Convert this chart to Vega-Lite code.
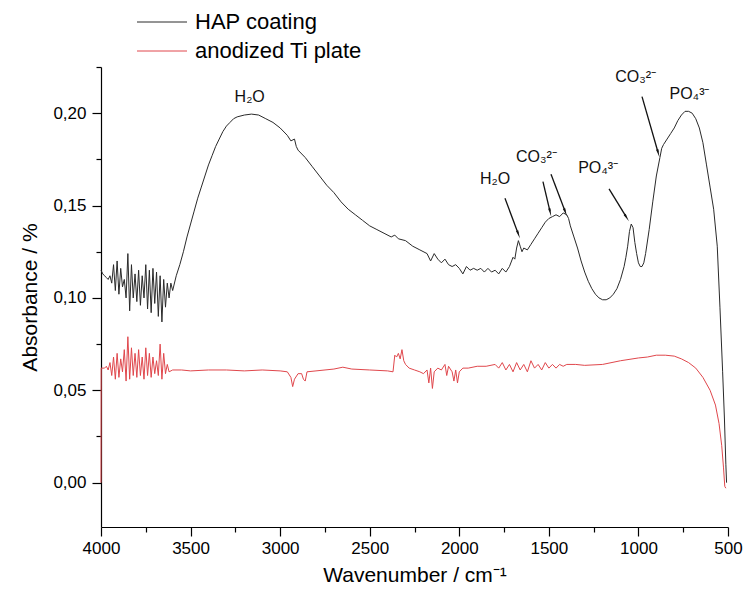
{
  "$schema": "https://vega.github.io/schema/vega-lite/v6.json",
  "autosize": "none",
  "width": 627,
  "height": 460,
  "padding": {"left": 101, "top": 67, "right": 15, "bottom": 72},
  "background": "white",
  "config": {
    "font": "Liberation Sans",
    "view": {"stroke": null},
    "axis": {"domainColor": "#000", "tickColor": "#000", "labelColor": "#000", "titleColor": "#000", "grid": false, "labelFont": "Liberation Sans", "titleFont": "Liberation Sans", "titleFontWeight": "normal"}
  },
  "datasets": {
    "hap": [
      {"wn": 4000, "A": 0.115}, {"wn": 3990, "A": 0.113}, {"wn": 3980, "A": 0.112}, {"wn": 3970, "A": 0.111},
      {"wn": 3960, "A": 0.110}, {"wn": 3950, "A": 0.112}, {"wn": 3940, "A": 0.108}, {"wn": 3930, "A": 0.118},
      {"wn": 3920, "A": 0.104}, {"wn": 3910, "A": 0.120}, {"wn": 3900, "A": 0.102}, {"wn": 3890, "A": 0.116},
      {"wn": 3880, "A": 0.106}, {"wn": 3870, "A": 0.110}, {"wn": 3860, "A": 0.100}, {"wn": 3850, "A": 0.124},
      {"wn": 3840, "A": 0.093}, {"wn": 3830, "A": 0.118}, {"wn": 3820, "A": 0.100}, {"wn": 3810, "A": 0.113},
      {"wn": 3800, "A": 0.098}, {"wn": 3790, "A": 0.115}, {"wn": 3780, "A": 0.096}, {"wn": 3770, "A": 0.112},
      {"wn": 3760, "A": 0.100}, {"wn": 3750, "A": 0.118}, {"wn": 3740, "A": 0.094}, {"wn": 3730, "A": 0.115},
      {"wn": 3720, "A": 0.092}, {"wn": 3710, "A": 0.116}, {"wn": 3700, "A": 0.097}, {"wn": 3690, "A": 0.114},
      {"wn": 3680, "A": 0.090}, {"wn": 3670, "A": 0.112}, {"wn": 3660, "A": 0.087}, {"wn": 3650, "A": 0.110},
      {"wn": 3640, "A": 0.095}, {"wn": 3630, "A": 0.108}, {"wn": 3620, "A": 0.100}, {"wn": 3610, "A": 0.108},
      {"wn": 3600, "A": 0.104}, {"wn": 3580, "A": 0.112}, {"wn": 3560, "A": 0.118}, {"wn": 3540, "A": 0.125},
      {"wn": 3520, "A": 0.133}, {"wn": 3500, "A": 0.140}, {"wn": 3480, "A": 0.147}, {"wn": 3460, "A": 0.154},
      {"wn": 3440, "A": 0.160}, {"wn": 3420, "A": 0.166}, {"wn": 3400, "A": 0.172}, {"wn": 3380, "A": 0.177},
      {"wn": 3360, "A": 0.182}, {"wn": 3340, "A": 0.186}, {"wn": 3320, "A": 0.190}, {"wn": 3300, "A": 0.193},
      {"wn": 3280, "A": 0.195}, {"wn": 3260, "A": 0.197}, {"wn": 3240, "A": 0.198}, {"wn": 3200, "A": 0.199},
      {"wn": 3160, "A": 0.1995}, {"wn": 3120, "A": 0.199}, {"wn": 3080, "A": 0.197}, {"wn": 3040, "A": 0.195},
      {"wn": 3000, "A": 0.192}, {"wn": 2960, "A": 0.188}, {"wn": 2940, "A": 0.185}, {"wn": 2920, "A": 0.186},
      {"wn": 2910, "A": 0.182}, {"wn": 2900, "A": 0.180}, {"wn": 2860, "A": 0.176}, {"wn": 2820, "A": 0.171},
      {"wn": 2780, "A": 0.166}, {"wn": 2740, "A": 0.161}, {"wn": 2700, "A": 0.157}, {"wn": 2660, "A": 0.152},
      {"wn": 2620, "A": 0.148}, {"wn": 2580, "A": 0.145}, {"wn": 2540, "A": 0.142}, {"wn": 2500, "A": 0.139},
      {"wn": 2460, "A": 0.137}, {"wn": 2420, "A": 0.135}, {"wn": 2380, "A": 0.133}, {"wn": 2360, "A": 0.134},
      {"wn": 2340, "A": 0.132}, {"wn": 2300, "A": 0.131}, {"wn": 2260, "A": 0.128}, {"wn": 2220, "A": 0.126},
      {"wn": 2180, "A": 0.124}, {"wn": 2160, "A": 0.120}, {"wn": 2140, "A": 0.124}, {"wn": 2120, "A": 0.121},
      {"wn": 2100, "A": 0.119}, {"wn": 2080, "A": 0.121}, {"wn": 2060, "A": 0.118}, {"wn": 2040, "A": 0.117},
      {"wn": 2020, "A": 0.118}, {"wn": 2000, "A": 0.116}, {"wn": 1980, "A": 0.113}, {"wn": 1960, "A": 0.117},
      {"wn": 1940, "A": 0.115}, {"wn": 1920, "A": 0.116}, {"wn": 1900, "A": 0.115}, {"wn": 1880, "A": 0.116},
      {"wn": 1860, "A": 0.114}, {"wn": 1840, "A": 0.116}, {"wn": 1820, "A": 0.114}, {"wn": 1800, "A": 0.115},
      {"wn": 1780, "A": 0.113}, {"wn": 1760, "A": 0.116}, {"wn": 1740, "A": 0.114}, {"wn": 1720, "A": 0.117},
      {"wn": 1700, "A": 0.122}, {"wn": 1690, "A": 0.121}, {"wn": 1680, "A": 0.127}, {"wn": 1670, "A": 0.131},
      {"wn": 1660, "A": 0.128}, {"wn": 1650, "A": 0.125}, {"wn": 1640, "A": 0.127}, {"wn": 1620, "A": 0.126},
      {"wn": 1600, "A": 0.129}, {"wn": 1580, "A": 0.132}, {"wn": 1560, "A": 0.135}, {"wn": 1540, "A": 0.138},
      {"wn": 1520, "A": 0.141}, {"wn": 1500, "A": 0.143}, {"wn": 1480, "A": 0.144}, {"wn": 1460, "A": 0.145},
      {"wn": 1440, "A": 0.144}, {"wn": 1420, "A": 0.146}, {"wn": 1400, "A": 0.145}, {"wn": 1390, "A": 0.143},
      {"wn": 1380, "A": 0.139}, {"wn": 1360, "A": 0.133}, {"wn": 1340, "A": 0.127}, {"wn": 1320, "A": 0.120},
      {"wn": 1300, "A": 0.114}, {"wn": 1280, "A": 0.109}, {"wn": 1260, "A": 0.105}, {"wn": 1240, "A": 0.102},
      {"wn": 1220, "A": 0.100}, {"wn": 1200, "A": 0.099}, {"wn": 1180, "A": 0.099}, {"wn": 1160, "A": 0.100},
      {"wn": 1140, "A": 0.102}, {"wn": 1120, "A": 0.105}, {"wn": 1100, "A": 0.110}, {"wn": 1080, "A": 0.117},
      {"wn": 1070, "A": 0.122}, {"wn": 1060, "A": 0.128}, {"wn": 1050, "A": 0.136}, {"wn": 1040, "A": 0.140},
      {"wn": 1030, "A": 0.138}, {"wn": 1020, "A": 0.130}, {"wn": 1010, "A": 0.124}, {"wn": 1000, "A": 0.119},
      {"wn": 990, "A": 0.117}, {"wn": 980, "A": 0.117}, {"wn": 970, "A": 0.119}, {"wn": 960, "A": 0.124},
      {"wn": 940, "A": 0.137}, {"wn": 920, "A": 0.152}, {"wn": 900, "A": 0.166}, {"wn": 880, "A": 0.176},
      {"wn": 870, "A": 0.181}, {"wn": 860, "A": 0.183}, {"wn": 840, "A": 0.186}, {"wn": 820, "A": 0.189},
      {"wn": 800, "A": 0.192}, {"wn": 780, "A": 0.196}, {"wn": 760, "A": 0.199}, {"wn": 740, "A": 0.201},
      {"wn": 720, "A": 0.201}, {"wn": 700, "A": 0.200}, {"wn": 680, "A": 0.197}, {"wn": 660, "A": 0.192},
      {"wn": 640, "A": 0.184}, {"wn": 620, "A": 0.172}, {"wn": 600, "A": 0.160}, {"wn": 580, "A": 0.148},
      {"wn": 560, "A": 0.128}, {"wn": 545, "A": 0.095}, {"wn": 530, "A": 0.060}, {"wn": 520, "A": 0.035},
      {"wn": 512, "A": 0.010}, {"wn": 508, "A": 0.000}
    ],
    "ti": [
      {"wn": 4000, "A": 0.000}, {"wn": 3999, "A": 0.062}, {"wn": 3980, "A": 0.062}, {"wn": 3970, "A": 0.063},
      {"wn": 3960, "A": 0.061}, {"wn": 3950, "A": 0.065}, {"wn": 3940, "A": 0.058}, {"wn": 3930, "A": 0.068},
      {"wn": 3920, "A": 0.056}, {"wn": 3910, "A": 0.070}, {"wn": 3900, "A": 0.057}, {"wn": 3890, "A": 0.067},
      {"wn": 3880, "A": 0.060}, {"wn": 3870, "A": 0.072}, {"wn": 3860, "A": 0.055}, {"wn": 3850, "A": 0.079},
      {"wn": 3840, "A": 0.056}, {"wn": 3830, "A": 0.073}, {"wn": 3820, "A": 0.058}, {"wn": 3810, "A": 0.070},
      {"wn": 3800, "A": 0.057}, {"wn": 3790, "A": 0.072}, {"wn": 3780, "A": 0.058}, {"wn": 3770, "A": 0.068},
      {"wn": 3760, "A": 0.056}, {"wn": 3750, "A": 0.073}, {"wn": 3740, "A": 0.058}, {"wn": 3730, "A": 0.070},
      {"wn": 3720, "A": 0.057}, {"wn": 3710, "A": 0.068}, {"wn": 3700, "A": 0.059}, {"wn": 3690, "A": 0.066},
      {"wn": 3680, "A": 0.058}, {"wn": 3670, "A": 0.075}, {"wn": 3660, "A": 0.056}, {"wn": 3650, "A": 0.070},
      {"wn": 3640, "A": 0.059}, {"wn": 3630, "A": 0.064}, {"wn": 3620, "A": 0.060}, {"wn": 3600, "A": 0.061},
      {"wn": 3550, "A": 0.061}, {"wn": 3500, "A": 0.0605}, {"wn": 3400, "A": 0.061}, {"wn": 3300, "A": 0.061},
      {"wn": 3200, "A": 0.0605}, {"wn": 3100, "A": 0.061}, {"wn": 3000, "A": 0.0605}, {"wn": 2960, "A": 0.060},
      {"wn": 2940, "A": 0.057}, {"wn": 2930, "A": 0.052}, {"wn": 2920, "A": 0.056}, {"wn": 2900, "A": 0.059},
      {"wn": 2880, "A": 0.059}, {"wn": 2870, "A": 0.056}, {"wn": 2860, "A": 0.055}, {"wn": 2850, "A": 0.060},
      {"wn": 2800, "A": 0.0605}, {"wn": 2700, "A": 0.0615}, {"wn": 2650, "A": 0.0625}, {"wn": 2600, "A": 0.0615},
      {"wn": 2500, "A": 0.061}, {"wn": 2400, "A": 0.0605}, {"wn": 2370, "A": 0.060}, {"wn": 2360, "A": 0.069},
      {"wn": 2350, "A": 0.068}, {"wn": 2340, "A": 0.070}, {"wn": 2330, "A": 0.067}, {"wn": 2320, "A": 0.072},
      {"wn": 2310, "A": 0.066}, {"wn": 2300, "A": 0.064}, {"wn": 2280, "A": 0.062}, {"wn": 2250, "A": 0.061},
      {"wn": 2220, "A": 0.060}, {"wn": 2200, "A": 0.059}, {"wn": 2180, "A": 0.061}, {"wn": 2170, "A": 0.054},
      {"wn": 2160, "A": 0.062}, {"wn": 2150, "A": 0.051}, {"wn": 2140, "A": 0.060}, {"wn": 2120, "A": 0.062},
      {"wn": 2100, "A": 0.061}, {"wn": 2080, "A": 0.064}, {"wn": 2070, "A": 0.058}, {"wn": 2060, "A": 0.063},
      {"wn": 2040, "A": 0.060}, {"wn": 2030, "A": 0.055}, {"wn": 2020, "A": 0.061}, {"wn": 2010, "A": 0.054},
      {"wn": 2000, "A": 0.060}, {"wn": 1980, "A": 0.062}, {"wn": 1950, "A": 0.062}, {"wn": 1900, "A": 0.063},
      {"wn": 1850, "A": 0.063}, {"wn": 1800, "A": 0.064}, {"wn": 1780, "A": 0.062}, {"wn": 1760, "A": 0.065},
      {"wn": 1740, "A": 0.061}, {"wn": 1720, "A": 0.064}, {"wn": 1700, "A": 0.060}, {"wn": 1680, "A": 0.065},
      {"wn": 1660, "A": 0.061}, {"wn": 1640, "A": 0.064}, {"wn": 1620, "A": 0.060}, {"wn": 1600, "A": 0.066},
      {"wn": 1580, "A": 0.062}, {"wn": 1560, "A": 0.064}, {"wn": 1540, "A": 0.061}, {"wn": 1520, "A": 0.065},
      {"wn": 1500, "A": 0.062}, {"wn": 1480, "A": 0.064}, {"wn": 1460, "A": 0.062}, {"wn": 1440, "A": 0.064},
      {"wn": 1420, "A": 0.063}, {"wn": 1400, "A": 0.064}, {"wn": 1350, "A": 0.064}, {"wn": 1300, "A": 0.0635},
      {"wn": 1200, "A": 0.064}, {"wn": 1100, "A": 0.066}, {"wn": 1000, "A": 0.0675}, {"wn": 950, "A": 0.068},
      {"wn": 900, "A": 0.069}, {"wn": 850, "A": 0.069}, {"wn": 800, "A": 0.0685}, {"wn": 760, "A": 0.067},
      {"wn": 720, "A": 0.065}, {"wn": 680, "A": 0.062}, {"wn": 640, "A": 0.057}, {"wn": 600, "A": 0.050},
      {"wn": 570, "A": 0.042}, {"wn": 550, "A": 0.032}, {"wn": 535, "A": 0.020}, {"wn": 525, "A": 0.008},
      {"wn": 518, "A": -0.002}, {"wn": 512, "A": -0.003}
    ],
    "labels": [
      {"wn": 3170, "A": 0.2085, "label": "H₂O"},
      {"wn": 1800, "A": 0.1645, "label": "H₂O"},
      {"wn": 1570, "A": 0.1765, "label": "CO₃²⁻"},
      {"wn": 1225, "A": 0.1705, "label": "PO₄³⁻"},
      {"wn": 1015, "A": 0.2195, "label": "CO₃²⁻"},
      {"wn": 715, "A": 0.2105, "label": "PO₄³⁻"}
    ],
    "arrows": [
      {"x1": 1745, "y1": 0.154, "x2": 1672, "y2": 0.135},
      {"x1": 1533, "y1": 0.163, "x2": 1494, "y2": 0.147},
      {"x1": 1488, "y1": 0.167, "x2": 1410, "y2": 0.147},
      {"x1": 1164, "y1": 0.159, "x2": 1069, "y2": 0.144},
      {"x1": 980, "y1": 0.209, "x2": 891, "y2": 0.179}
    ]
  },
  "resolve": {"axis": {"x": "independent", "y": "independent"}},
  "layer": [
    {
      "data": {"name": "hap"},
      "transform": [{"calculate": "'HAP coating'", "as": "series"}],
      "mark": {"type": "line", "strokeWidth": 1, "interpolate": "linear"},
      "encoding": {
        "x": {"field": "wn", "type": "quantitative", "scale": {"domain": [500, 4000], "reverse": true, "nice": false, "zero": false},
          "axis": {"orient": "bottom", "values": [4000, 3500, 3000, 2500, 2000, 1500, 1000, 500], "format": "d", "labelFontSize": 17, "tickSize": 9, "tickWidth": 1.2, "domainWidth": 1.2, "labelPadding": 4, "title": "Wavenumber / cm⁻¹", "titleFontSize": 21, "titlePadding": 8, "labelFlush": false}},
        "y": {"field": "A", "type": "quantitative", "scale": {"domain": [-0.024, 0.225], "nice": false, "zero": false},
          "axis": {"orient": "left", "values": [0, 0.05, 0.1, 0.15, 0.2], "labelExpr": "replace(format(datum.value, '.2f'), '.', ',')", "labelFontSize": 17, "tickSize": 9, "tickWidth": 1.2, "domainWidth": 1.2, "labelPadding": 6, "title": "Absorbance / %", "titleFontSize": 21, "titlePadding": 12}},
        "color": {"field": "series", "type": "nominal",
          "scale": {"domain": ["HAP coating", "anodized Ti plate"], "range": ["#2a2a2a", "#e0474c"]},
          "legend": {"orient": "none", "legendX": 50, "legendY": -56, "title": null, "symbolType": "M-2.5,0H2.5", "symbolSize": 400, "symbolStrokeWidth": 1, "labelFontSize": 22, "labelColor": "#000", "labelFont": "Liberation Sans", "labelOffset": 22, "rowPadding": 7, "padding": 0, "labelLimit": 400}}
      }
    },
    {
      "data": {"name": "ti"},
      "transform": [{"calculate": "'anodized Ti plate'", "as": "series"}],
      "mark": {"type": "line", "strokeWidth": 1, "interpolate": "linear"},
      "encoding": {
        "x": {"field": "wn", "type": "quantitative", "axis": null},
        "y": {"field": "A", "type": "quantitative", "axis": null},
        "color": {"field": "series", "type": "nominal"}
      }
    },
    {
      "data": {"name": "labels"},
      "mark": {"type": "text", "fontSize": 16, "color": "#111", "font": "Liberation Sans"},
      "encoding": {
        "x": {"field": "wn", "type": "quantitative",
          "axis": {"orient": "bottom", "values": [3750, 3250, 2750, 2250, 1750, 1250, 750], "labels": false, "domain": false, "tickSize": 5, "tickWidth": 1.2, "title": null}},
        "y": {"field": "A", "type": "quantitative",
          "axis": {"orient": "left", "values": [-0.025, 0.025, 0.075, 0.125, 0.175, 0.225], "labels": false, "domain": false, "tickSize": 5, "tickWidth": 1.2, "title": null}},
        "text": {"field": "label"}
      }
    },
    {
      "data": {"name": "arrows"},
      "mark": {"type": "rule", "strokeWidth": 1.3, "color": "#111"},
      "encoding": {
        "x": {"field": "x1", "type": "quantitative", "axis": null},
        "y": {"field": "y1", "type": "quantitative", "axis": null},
        "x2": {"field": "x2"},
        "y2": {"field": "y2"}
      }
    },
    {
      "data": {"name": "arrows"},
      "transform": [{"calculate": "atan2(-(datum.x2 - datum.x1) * 627 / 3500, (datum.y2 - datum.y1) * 1850) * 180 / PI", "as": "ang"}],
      "mark": {"type": "point", "shape": "wedge", "filled": true, "color": "#111", "size": 90, "opacity": 1},
      "encoding": {
        "x": {"field": "x2", "type": "quantitative", "axis": null},
        "y": {"field": "y2", "type": "quantitative", "axis": null},
        "angle": {"field": "ang", "type": "quantitative", "scale": null}
      }
    }
  ]
}
